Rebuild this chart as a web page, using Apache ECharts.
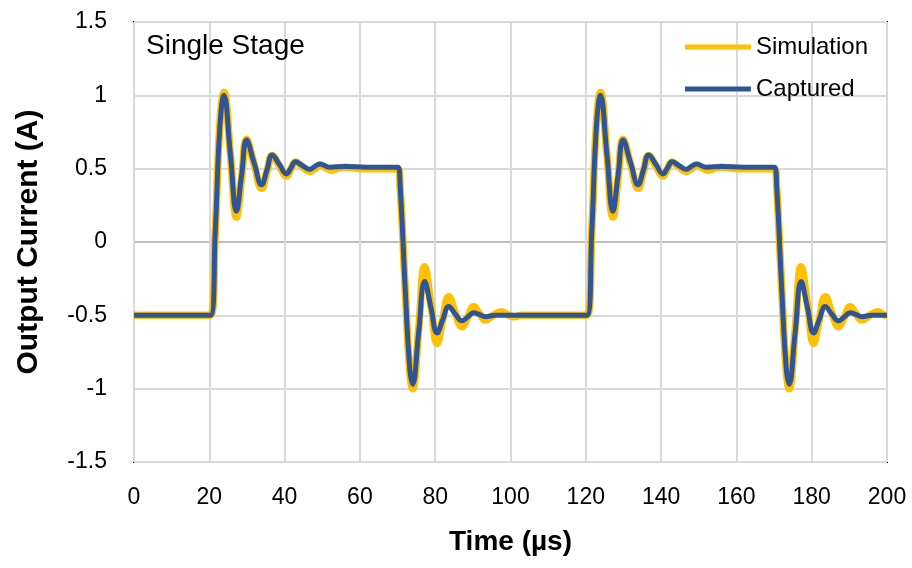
<!DOCTYPE html>
<html>
<head>
<meta charset="utf-8">
<script src="https://cdn.jsdelivr.net/npm/echarts@6/dist/echarts.min.js"></script>
<style>html,body{margin:0;padding:0;background:#fff}#c{width:912px;height:568px}</style>
</head>
<body>
<div id="c"></div>
<script>
var titleText = 'Single Stage';
var xTitle = 'Time (µs)';
var yTitle = 'Output Current (A)';
var seriesNames = ['Simulation', 'Captured'];

var simTime = [0, 20.3, 21.6, 22.8, 23.9, 25.6, 27.2, 28.6, 29.9, 31.9, 33.9, 35.3, 36.7, 38.6, 40.5, 41.7, 42.9, 44.8, 46.7, 48.0, 49.4, 51.0, 52.5, 54.5, 56, 60, 70.1, 70.7, 72.0, 73.2, 74.0, 75.6, 77.2, 78.9, 80.5, 82.0, 83.6, 85.3, 87.1, 88.7, 90.2, 91.8, 93.3, 95.4, 97.6, 99.5, 101, 103,
  120.3, 121.6, 122.8, 123.9, 125.6, 127.2, 128.6, 129.9, 131.9, 133.9, 135.3, 136.7, 138.6, 140.5, 141.7, 142.9, 144.8, 146.7, 148.0, 149.4, 151.0, 152.5, 154.5, 156, 160, 170.1, 170.7, 172.0, 173.2, 174.0, 175.6, 177.2, 178.9, 180.5, 182.0, 183.6, 185.3, 187.1, 188.7, 190.2, 191.8, 193.3, 195.4, 197.6, 199.5, 200];
var simValue = [-0.5, -0.5, 0.08, 0.8, 1.02, 0.6, 0.17, 0.44, 0.70, 0.53, 0.366, 0.48, 0.59, 0.52, 0.45, 0.50, 0.545, 0.51, 0.48, 0.50, 0.525, 0.505, 0.49, 0.505, 0.51, 0.5, 0.5, 0.37, -0.3, -0.87, -1.0, -0.6, -0.168, -0.43, -0.69, -0.53, -0.373, -0.48, -0.577, -0.51, -0.441, -0.49, -0.532, -0.5, -0.475, -0.5, -0.51, -0.5,
  -0.5, 0.08, 0.8, 1.02, 0.6, 0.17, 0.44, 0.70, 0.53, 0.366, 0.48, 0.59, 0.52, 0.45, 0.50, 0.545, 0.51, 0.48, 0.50, 0.525, 0.505, 0.49, 0.505, 0.51, 0.5, 0.5, 0.37, -0.3, -0.87, -1.0, -0.6, -0.168, -0.43, -0.69, -0.53, -0.373, -0.48, -0.577, -0.51, -0.441, -0.49, -0.532, -0.5, -0.475, -0.5, -0.5];

var capTime = [0, 20.3, 21.6, 22.8, 23.9, 25.6, 27.2, 28.6, 29.9, 31.9, 33.9, 35.3, 36.7, 38.6, 40.5, 41.7, 42.9, 44.8, 46.7, 48.0, 49.4, 52, 56, 62, 70.1, 70.7, 72.0, 73.2, 74.0, 75.6, 77.2, 78.9, 80.5, 82.0, 83.6, 85.3, 87.1, 88.7, 90.2, 91.8, 93.3, 96, 100,
  120.3, 121.6, 122.8, 123.9, 125.6, 127.2, 128.6, 129.9, 131.9, 133.9, 135.3, 136.7, 138.6, 140.5, 141.7, 142.9, 144.8, 146.7, 148.0, 149.4, 152, 156, 162, 170.1, 170.7, 172.0, 173.2, 174.0, 175.6, 177.2, 178.9, 180.5, 182.0, 183.6, 185.3, 187.1, 188.7, 190.2, 191.8, 193.3, 196, 200];
var capValue = [-0.5, -0.5, 0.08, 0.78, 1.0, 0.6, 0.21, 0.46, 0.695, 0.54, 0.39, 0.49, 0.593, 0.53, 0.464, 0.505, 0.547, 0.52, 0.496, 0.515, 0.532, 0.51, 0.515, 0.51, 0.51, 0.38, -0.3, -0.85, -0.97, -0.62, -0.27, -0.45, -0.62, -0.53, -0.44, -0.49, -0.537, -0.51, -0.482, -0.495, -0.509, -0.5, -0.5,
  -0.5, 0.08, 0.78, 1.0, 0.6, 0.21, 0.46, 0.695, 0.54, 0.39, 0.49, 0.593, 0.53, 0.464, 0.505, 0.547, 0.52, 0.496, 0.515, 0.532, 0.51, 0.515, 0.51, 0.51, 0.38, -0.3, -0.85, -0.97, -0.62, -0.27, -0.45, -0.62, -0.53, -0.44, -0.49, -0.537, -0.51, -0.482, -0.495, -0.509, -0.5, -0.5];

function zip(a, b) { return a.map(function (t, i) { return [t, b[i]]; }); }

var font = '"Liberation Sans", Arial, Helvetica, sans-serif';
var chart = echarts.init(document.getElementById('c'), null, { renderer: 'canvas' });
chart.setOption({
  animation: false,
  backgroundColor: '#ffffff',
  title: {
    text: titleText, left: 146, top: 32, padding: 0,
    textStyle: { fontFamily: font, fontWeight: 'normal', fontSize: 28, color: '#000' }
  },
  legend: {
    orient: 'vertical', right: 44, top: 33, padding: 0, itemGap: 14,
    itemWidth: 66, itemHeight: 5, icon: 'rect',
    textStyle: { fontFamily: font, fontSize: 24, color: '#000', lineHeight: 28 },
    data: seriesNames
  },
  grid: { left: 134, right: 25, top: 22, bottom: 106, show: true, borderColor: '#000', borderWidth: 2, backgroundColor: 'transparent' },
  xAxis: {
    type: 'value', min: 0, max: 200, interval: 20,
    name: xTitle, nameLocation: 'middle', nameGap: 66,
    nameTextStyle: { fontFamily: font, fontWeight: 'bold', fontSize: 28, color: '#000' },
    axisLine: { show: false }, axisTick: { show: false },
    axisLabel: { fontFamily: font, fontSize: 23, color: '#000', margin: 24 },
    splitLine: { show: true, lineStyle: { color: '#d9d9d9', width: 2 } }
  },
  yAxis: {
    type: 'value', min: -1.5, max: 1.5, interval: 0.5,
    name: yTitle, nameLocation: 'middle', nameGap: 90,
    nameTextStyle: { fontFamily: font, fontWeight: 'bold', fontSize: 30, color: '#000' },
    axisLine: { show: false }, axisTick: { show: false },
    axisLabel: { fontFamily: font, fontSize: 23, color: '#000', margin: 27 },
    splitLine: { show: true, lineStyle: { color: ['#d9d9d9', '#d9d9d9', '#d9d9d9', '#bfbfbf', '#d9d9d9', '#d9d9d9', '#d9d9d9'], width: 2 } }
  },
  series: [
    {
      name: seriesNames[0], type: 'line', showSymbol: false, smooth: 0.45,
      color: '#FFC000',
      lineStyle: { color: '#FFC000', width: 7.5 },
      data: zip(simTime, simValue), z: 2
    },
    {
      name: seriesNames[1], type: 'line', showSymbol: false, smooth: 0.45,
      color: '#2F5597',
      lineStyle: { color: '#2F5597', width: 5 },
      data: zip(capTime, capValue), z: 3
    }
  ]
});
</script>
</body>
</html>
